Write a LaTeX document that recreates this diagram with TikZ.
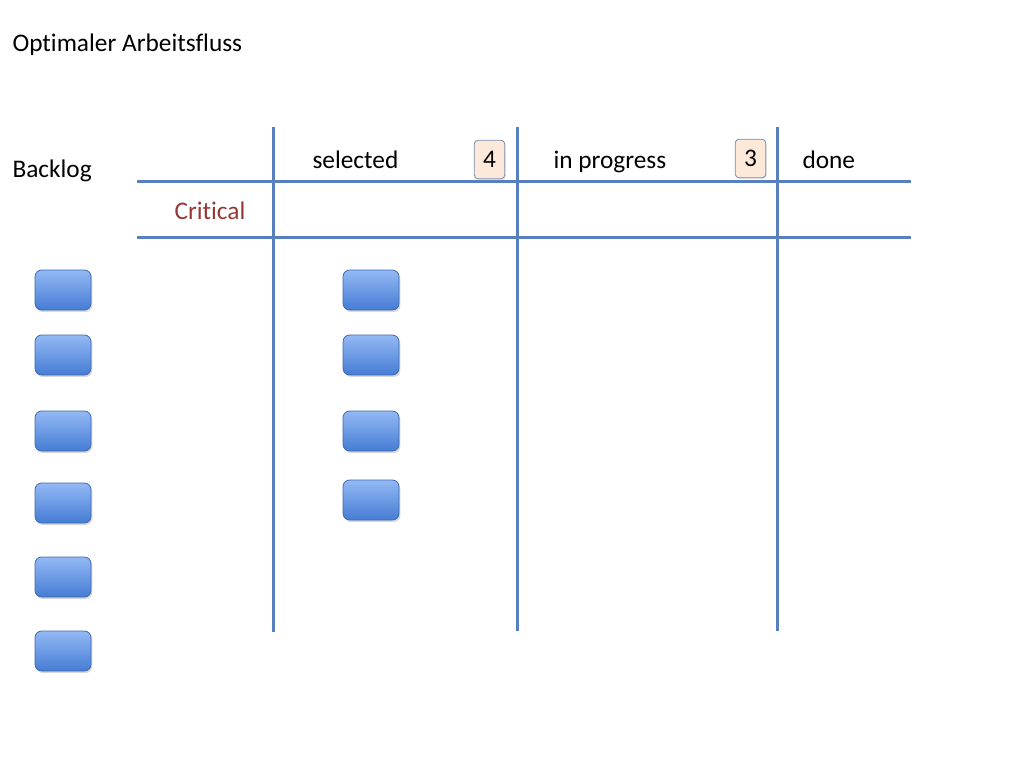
\documentclass[tikz,border=0pt]{standalone}
\usepackage{fontspec}
\setmainfont[Ligatures={NoCommon,NoRare,NoContextual},RawFeature={-liga;-dlig;-clig;-calt}]{Carlito}
\usetikzlibrary{shadows}

\definecolor{boardblue}{RGB}{88,128,188}
\definecolor{cardtop}{RGB}{147,185,245}
\definecolor{cardbottom}{RGB}{70,124,212}
\definecolor{cardline}{RGB}{60,105,175}
\definecolor{badgefill}{RGB}{252,233,218}
\definecolor{badgeline}{RGB}{120,140,170}
\definecolor{critred}{RGB}{149,55,53}

\tikzset{every picture/.style={line width=0.75pt}}
\tikzset{
  boardline/.style={draw=boardblue, line width=2.25pt},
  card/.style={rectangle, rounded corners=5pt, minimum width=42pt, minimum height=30pt,
    draw=cardline, line width=0.6pt, top color=cardtop, bottom color=cardbottom,
    drop shadow={opacity=0.3, shadow xshift=1pt, shadow yshift=-1.5pt}},
  badge/.style={rectangle, rounded corners=3pt, minimum width=23pt, minimum height=29pt,
    draw=badgeline, line width=0.6pt, fill=badgefill, inner sep=0pt, font=\fontsize{19}{22}\selectfont,
    drop shadow={opacity=0.2, shadow xshift=0.8pt, shadow yshift=-1pt}},
  label/.style={anchor=west, inner sep=0.75pt, text height=1.5ex, text depth=0.25ex,
    font=\fontsize{19}{23}\selectfont}
}

\begin{document}
\begin{tikzpicture}[x=0.75pt,y=0.75pt,yscale=-1,xscale=1]
		\useasboundingbox (0,0) rectangle (1024,768); %set diagram to the slide size
		
		%Straight Lines (header)
		\draw [boardline]  (137,181) -- (911,181) ;
		%Straight Lines (critical lane)
		\draw [boardline]  (137,237) -- (911,237) ;
		%Straight Lines (column selected)
		\draw [boardline]  (273,127) -- (273,632) ;
		%Straight Lines (column in progress)
		\draw [boardline]  (517,127) -- (517,631) ;
		%Straight Lines (column done)
		\draw [boardline]  (777,127) -- (777,631) ;
		
		% Text Node
		\node [label] (title) at (11,48) {Optimaler Arbeitsfluss};
		% Text Node
		\node [label] (backlog) at (11,174) {Backlog};
		% Text Node
		\node [label] (selected) at (311,165) {selected};
		% Text Node
		\node [label] (inprogress) at (552,165) {in progress};
		% Text Node
		\node [label] (done) at (801,165) {done};
		% Text Node
		\node [label, text=critred] (critical) at (173,216) {Critical};
		
		% WIP limits
		\node [badge] (limitsel) at (489.5,159.5) {4};
		\node [badge] (limitprog) at (750.5,158.5) {3};
		
		% Backlog cards
		\node [card] (bl1) at (63,290) {};
		\node [card] (bl2) at (63,355) {};
		\node [card] (bl3) at (63,431) {};
		\node [card] (bl4) at (63,503) {};
		\node [card] (bl5) at (63,577) {};
		\node [card] (bl6) at (63,651) {};
		
		% Selected cards
		\node [card] (sel1) at (371,290) {};
		\node [card] (sel2) at (371,355) {};
		\node [card] (sel3) at (371,431) {};
		\node [card] (sel4) at (371,500) {};
	\end{tikzpicture}
\end{document}
